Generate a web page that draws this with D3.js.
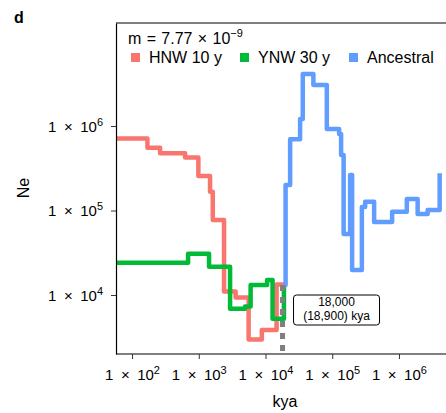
<!DOCTYPE html>
<html>
<head>
<meta charset="utf-8">
<script src="https://cdn.jsdelivr.net/npm/d3@7"></script>
<style>
  html, body { margin: 0; padding: 0; background: #fff; }
  svg { display: block; font-family: "Liberation Sans", Arial, Helvetica, sans-serif; }
</style>
</head>
<body>
<svg id="chart" width="446" height="413"></svg>
<script>
// Effective population size through time (step functions, kya vs Ne)
// Each entry: [start of interval in kya, Ne over that interval]
const hnwSeries = [
  [50, 714000], [170, 553000], [263, 475000], [624, 424000], [986, 256000],
  [1476, 167000], [1622, 77300], [2393, 11000], [3566, 9340], [5585, 2970],
  [8812, 3850], [14660, 13300], [18900, 13300]
];
const ynwSeries = [
  [50, 24100], [692, 30800], [1426, 21600], [2946, 6890], [4943, 7310],
  [5985, 13100], [10570, 15060], [12770, 5250], [18900, 13100]
];
const ancestralSeries = [
  [18900, 13100], [20000, 200500], [23400, 697000], [33000, 1211000],
  [36200, 4120000], [52200, 3055000], [83000, 920000], [126800, 803000],
  [135900, 454000], [148200, 52800], [185400, 263000], [198700, 19800],
  [278000, 109900], [311500, 127000], [424600, 73100], [790000, 96800],
  [1312000, 136700], [1905000, 90900], [2692000, 101400], [4074000, 275600]
];
const seriesNames = ["HNW 10 y", "YNW 30 y", "Ancestral"];
const seriesColors = ["#F8766D", "#00BA38", "#619CFF"];
const xTickValues = [1e2, 1e3, 1e4, 1e5, 1e6];
const yTickValues = [1e4, 1e5, 1e6];
const splitTime = 18000;
const splitLabel = ["18,000", "(18,900) kya"];
const mutationRate = { mantissa: "7.77", exponent: "\u22129" };

const svg = d3.select("#chart");
const plot = { left: 116, right: 446, top: 23, bottom: 354 };

const x = d3.scaleLog().domain([57.5, 5.07e6]).range([plot.left, plot.right]);
const y = d3.scaleLog().domain([2005, 1.656e7]).range([plot.bottom, plot.top]);

// panel tag
svg.append("text").attr("x", 14).attr("y", 23)
  .attr("font-size", 16).attr("font-weight", "bold").text("d");

// clip region for the curves
svg.append("defs").append("clipPath").attr("id", "plotClip")
  .append("rect").attr("x", plot.left).attr("y", plot.top)
  .attr("width", plot.right - plot.left + 10).attr("height", plot.bottom - plot.top);

const line = d3.line()
  .x(d => x(d[0])).y(d => y(d[1]))
  .curve(d3.curveStepAfter);

const curves = svg.append("g").attr("clip-path", "url(#plotClip)");
[hnwSeries, ynwSeries, ancestralSeries].forEach((s, i) => {
  curves.append("path").datum(s)
    .attr("d", line)
    .attr("fill", "none")
    .attr("stroke", seriesColors[i])
    .attr("stroke-width", 4.5)
    .attr("stroke-linejoin", "round");
});

// split-time marker
curves.append("line")
  .attr("x1", x(splitTime)).attr("x2", x(splitTime))
  .attr("y1", y(13100)).attr("y2", plot.bottom)
  .attr("stroke", "#7f7f7f").attr("stroke-width", 5)
  .attr("stroke-dasharray", "6,6");

// annotation box
const boxX = x(splitTime) + 11, boxY = 295, boxW = 86, boxH = 30;
const ann = svg.append("g");
ann.append("rect").attr("x", boxX).attr("y", boxY)
  .attr("width", boxW).attr("height", boxH).attr("rx", 3)
  .attr("fill", "#fff").attr("stroke", "#000").attr("stroke-width", 1);
ann.selectAll("text.ann").data(splitLabel).join("text")
  .attr("class", "ann")
  .attr("x", boxX + boxW / 2)
  .attr("y", (d, i) => boxY + 11 + i * 14)
  .attr("text-anchor", "middle").attr("font-size", 12)
  .text(d => d);

// panel frame (top) + axes
svg.append("line").attr("x1", plot.left).attr("x2", plot.right + 10)
  .attr("y1", plot.top).attr("y2", plot.top).attr("stroke", "#000").attr("stroke-width", 1.2);

// "1 × 10^k" labels, with the wider operator spacing of math typesetting
function sciLabel(sel, exp) {
  sel.text(null);
  sel.append("tspan").text("1\u2002\u00d7\u200210");
  sel.append("tspan").attr("dy", -6).attr("font-size", 11).text(exp);
}

const xAxis = svg.append("g").attr("transform", `translate(0,${plot.bottom})`)
  .call(d3.axisBottom(x).tickValues(xTickValues).tickSize(5).tickSizeOuter(0).tickPadding(4));
const yAxis = svg.append("g").attr("transform", `translate(${plot.left},0)`)
  .call(d3.axisLeft(y).tickValues(yTickValues).tickSize(5).tickSizeOuter(0).tickPadding(4));

[xAxis, yAxis].forEach(ax => {
  ax.select(".domain").attr("stroke", "#000").attr("stroke-width", 1.2);
  ax.selectAll(".tick line").attr("stroke", "#333").attr("stroke-width", 1);
  ax.selectAll(".tick text").attr("fill", "#000").attr("font-size", 15)
    .attr("font-family", "Liberation Sans, Arial, sans-serif");
});
xAxis.selectAll(".tick text").attr("dy", null).attr("y", 26)
  .each(function(d) { sciLabel(d3.select(this), String(Math.round(Math.log10(d)))); });
yAxis.selectAll(".tick text").attr("dy", "0.36em").attr("x", -13)
  .each(function(d) { sciLabel(d3.select(this), String(Math.round(Math.log10(d)))); });
// extend x axis line to the right edge
xAxis.select(".domain").attr("d", `M${plot.left},0H${plot.right + 10}`);

// axis titles
svg.append("text").attr("x", 285).attr("y", 407)
  .attr("text-anchor", "middle").attr("font-size", 16).text("kya");
svg.append("text").attr("transform", `translate(29,188) rotate(-90)`)
  .attr("text-anchor", "middle").attr("font-size", 16).text("Ne");

// legend
const leg = svg.append("g");
const mText = leg.append("text").attr("x", 128).attr("y", 44).attr("font-size", 16);
mText.append("tspan").text(`m\u2004=\u2004${mutationRate.mantissa}\u2004\u00d7\u200410`);
mText.append("tspan").attr("dy", -7).attr("font-size", 11).text(mutationRate.exponent);

const legX = [131, 240, 349];
seriesNames.forEach((name, i) => {
  leg.append("rect").attr("x", legX[i]).attr("y", 53)
    .attr("width", 9).attr("height", 9).attr("fill", seriesColors[i]);
  leg.append("text").attr("x", legX[i] + 18).attr("y", 63)
    .attr("font-size", 16).text(name);
});
</script>
</body>
</html>
